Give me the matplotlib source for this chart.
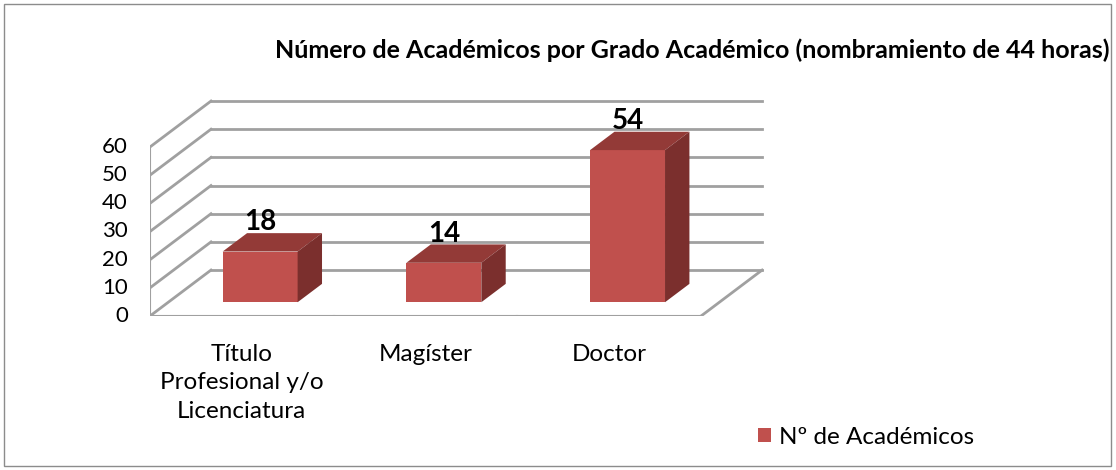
import matplotlib.pyplot as plt
from matplotlib.patches import Polygon, Rectangle, Patch

categories = ['Título\nProfesional y/o\nLicenciatura', 'Magíster', 'Doctor']
values = [18, 14, 54]
yticks = [0, 10, 20, 30, 40, 50, 60]
title = 'Número de Académicos por Grado Académico (nombramiento de 44 horas)'
series = 'Nº de Académicos'

plt.rcParams['font.family'] = ['Lato', 'DejaVu Sans']

# oblique "3d" look: depth offset expressed in data units
dxu, dyu = 0.332, 16.3
d0, d1 = 0.3, 0.7
hw = 0.204
grid = '#a0a0a0'
front, top, side = '#c0504d', '#933a37', '#7b2f2d'

fig = plt.figure(figsize=(11.16, 4.70), dpi=100)
ax = fig.add_axes([150/1116, 154/470, 620/1116, 221/470])
ax.set_xlim(0, 620/183.7)
ax.set_ylim(0, 221/2.817)
ax.axis('off')

n = len(categories)
ymax = yticks[-1]
# back wall gridlines and left wall diagonals
for t in yticks:
    ax.plot([dxu, n + dxu], [t + dyu, t + dyu], color=grid, lw=2, zorder=1)
    ax.plot([0, dxu], [t, t + dyu], color=grid, lw=2, zorder=1)
    ax.plot([-0.033, 0], [t, t], color=grid, lw=1.5, zorder=1)
    ax.text(-0.12, t, str(t), ha='right', va='center', fontsize=16)
# front axis, floor edges
ax.plot([0, 0], [0, ymax], color=grid, lw=1.5, zorder=1)
ax.plot([0, n], [0, 0], color=grid, lw=1.5, zorder=1)
ax.plot([n, n + dxu], [0, dyu], color=grid, lw=2, zorder=1)
for i in range(n + 1):
    ax.plot([i, i], [0, -2.2], color=grid, lw=1.5, zorder=1)

for i, v in enumerate(values):
    c = i + 0.5
    x0, x1 = c - hw + d0*dxu, c + hw + d0*dxu
    yb = d0*dyu
    ox, oy = (d1 - d0)*dxu, (d1 - d0)*dyu
    ax.add_patch(Rectangle((x0, yb), x1 - x0, v, fc=front, ec='none', zorder=3))
    ax.add_patch(Polygon([(x0, yb + v), (x1, yb + v), (x1 + ox, yb + v + oy), (x0 + ox, yb + v + oy)],
                         fc=top, ec='none', zorder=3))
    ax.add_patch(Polygon([(x1, yb), (x1 + ox, yb + oy), (x1 + ox, yb + v + oy), (x1, yb + v)],
                         fc=side, ec='none', zorder=3))
    ax.text(c + d0*dxu, v + d1*dyu - 0.8, str(v), ha='center', va='bottom',
            fontsize=20, fontweight='bold', zorder=4)
    ax.text(c, -9.8, categories[i], ha='center', va='top', fontsize=17.5, linespacing=1.45)

fig.text(692/1116, 1 - 50/470, title, ha='center', va='center', fontsize=18, fontweight='bold')
fig.legend(handles=[Patch(fc=front, label=series)], loc='center left',
           bbox_to_anchor=(736/1116, 1 - 437/470), frameon=False, fontsize=17.5,
           handlelength=0.55, handleheight=0.55, handletextpad=0.3)
fig.patches.append(Rectangle((4/1116, 4/470), 1107/1116, 462/470, transform=fig.transFigure,
                             fill=False, ec='#8c8c8c', lw=1))
fig.savefig('out.png', dpi=100)
